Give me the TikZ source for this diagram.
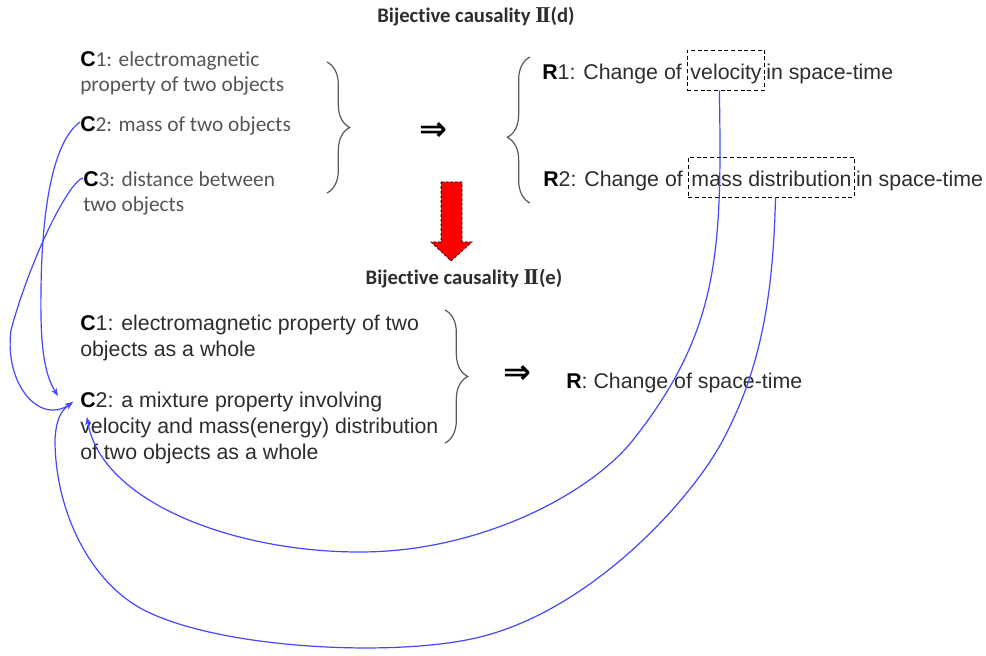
\documentclass[tikz,border=0pt]{standalone}
\usepackage{fontspec}
\setmainfont{Liberation Sans}
\newfontfamily\calfont[Ligatures=NoCommon]{Carlito}
\newfontfamily\romfont{Liberation Serif}
\newfontfamily\symfont{DejaVu Sans}
\usetikzlibrary{positioning,arrows.meta,decorations.pathreplacing}
\definecolor{linkblue}{RGB}{70,70,255}
\definecolor{lighttext}{RGB}{85,85,85}
\definecolor{darktext}{RGB}{45,45,45}
\newcommand{\romtwo}{{\romfont\bfseries\fontsize{17}{18}\selectfont I\kern-0.1em I}}
\newcommand{\lab}[1]{{\rmfamily\bfseries\color{black}#1}}

\begin{document}
\begin{tikzpicture}[
    x=0.75pt, y=-0.75pt,
    every node/.style={inner sep=0pt, anchor=base west},
    title/.style={font=\calfont\bfseries\fontsize{15.5}{18}\selectfont, text=darktext, anchor=base},
    cond/.style={font=\calfont\fontsize{16}{18.75}\selectfont, text=lighttext, align=left},
    plain/.style={font=\fontsize{16}{19.5}\selectfont, text=darktext, align=left},
    dashbox/.style={draw, dashed, dash pattern=on 3pt off 2pt, line width=0.6pt,
                    font=\fontsize{16}{19.5}\selectfont, text=darktext,
                    inner xsep=2.25pt, inner ysep=6pt, text height=16.5pt, text depth=1.5pt},
    curl/.style={draw=black!65, line width=0.9pt, decorate, decoration={brace, amplitude=17pt}},
    imply/.style={font=\symfont\bfseries\fontsize{25}{25}\selectfont, anchor=center},
    link/.style={draw=linkblue, line width=0.9pt, -{Stealth[length=6pt,width=4.5pt]}}
  ]
  \useasboundingbox (0,0) rectangle (986,656);

  % causality II(d)
  \node[title] (titled) at (476,23) {Bijective causality \romtwo(d)};
  \node[cond] (c1a) at (80,92) {\lab{C}1: electromagnetic\\property of two objects};
  \node[cond] (c2a) at (80,132) {\lab{C}2: mass of two objects};
  \node[cond] (c3a) at (83,212) {\lab{C}3: distance between\\two objects};
  \draw[curl] (327,62) -- (327,193);
  \node[imply] (imp1) at (433,132) {⇒};
  \draw[curl, decoration={aspect=0.45}] (530,203) -- (530,57);
  \node[plain] (r1) at (542,80) {\lab{R}1: Change of};
  \node[dashbox] (vel) at ([xshift=3.75pt]r1.base east) {velocity};
  \node[plain] (r1b) at ([xshift=0.75pt]vel.base east) {in space-time};
  \node[plain] (r2) at (543,187) {\lab{R}2: Change of};
  \node[dashbox] (mass) at ([xshift=3.75pt]r2.base east) {mass distribution};
  \node[plain] (r2b) at ([xshift=0.75pt]mass.base east) {in space-time};

  \draw[fill=red, dashed, dash pattern=on 2pt off 1.5pt, line width=0.5pt]
    (441,182) -- (462,182) -- (462,242) -- (472,242) -- (451,261) -- (431,242) -- (441,242) -- cycle;

  % causality II(e)
  \node[title] (titlee) at (464,285) {Bijective causality \romtwo(e)};
  \node[plain] (c1b) at (80,356) {\lab{C}1: electromagnetic property of two\\objects as a whole};
  \node[plain] (c2b) at (80,459) {\lab{C}2: a mixture property involving\\velocity and mass(energy) distribution\\of two objects as a whole};
  \draw[curl] (445,310) -- (445,443);
  \node[imply] (imp2) at (517,375) {⇒};
  \node[plain] (rr) at (566,388) {\lab{R}: Change of space-time};

  \draw[link] ([shift={(0,-10)}]c2a.base west) .. controls (55,140) and (42,200) .. (41,290)
    .. controls (40,350) and (45,375) .. ([shift={(-22,-63)}]c2b.base west);
  \draw[link] ([shift={(0,-34)}]c3a.base west) .. controls (68,182) and (30,260) .. (11,330)
    .. controls (4,385) and (40,425) .. ([shift={(-7,-57)}]c2b.base west);
  \draw[link] ([xshift=-5pt]vel.south) .. controls (722,250) and (720,330) .. (633,440)
    .. controls (590,494) and (480,552) .. (360,552)
    .. controls (230,552) and (100,500) .. ([shift={(7,-42)}]c2b.base west);
  \draw[link] ([xshift=3pt]mass.south) .. controls (773,300) and (760,370) .. (723,440)
    .. controls (690,502) and (590,610) .. (480,637)
    .. controls (400,657) and (230,650) .. (150,613)
    .. controls (90,586) and (55,510) .. (55,440)
    .. controls (56,418) and (62,410) .. ([shift={(-7,-57)}]c2b.base west);
\end{tikzpicture}
\end{document}
